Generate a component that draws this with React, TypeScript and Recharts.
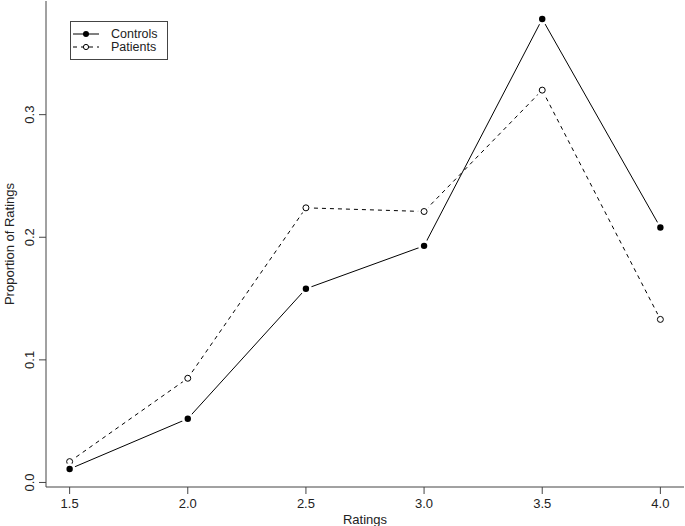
import React from "react";
import {
  LineChart,
  Line,
  XAxis,
  YAxis,
} from "recharts";

const ratings = [1.5, 2.0, 2.5, 3.0, 3.5, 4.0];
const controls = [0.011, 0.052, 0.158, 0.193, 0.378, 0.208];
const patients = [0.017, 0.085, 0.224, 0.221, 0.32, 0.133];
const xTicks = [1.5, 2.0, 2.5, 3.0, 3.5, 4.0];
const yTicks = [0, 0.1, 0.2, 0.3];

const data = ratings.map((r, i) => ({
  rating: r,
  controls: controls[i],
  patients: patients[i],
}));

const FONT = "'Liberation Sans', Arial, sans-serif";
const INK = "#222";
const AXIS = "#444";

const FilledDot = (props: any) => {
  const { cx, cy } = props;
  if (cx == null || cy == null) return null;
  return (
    <g>
      <circle cx={cx} cy={cy} r={6} fill="#fff" />
      <circle cx={cx} cy={cy} r={3.2} fill="#000" />
    </g>
  );
};

const OpenDot = (props: any) => {
  const { cx, cy } = props;
  if (cx == null || cy == null) return null;
  return (
    <g>
      <circle cx={cx} cy={cy} r={6} fill="#fff" />
      <circle cx={cx} cy={cy} r={3} fill="#fff" stroke="#000" strokeWidth={1} />
    </g>
  );
};

const YTick = (props: any) => {
  const { x, y, payload } = props;
  const tx = x - 3;
  return (
    <text
      x={tx}
      y={y}
      textAnchor="middle"
      transform={`rotate(-90 ${tx} ${y})`}
      fontSize={13}
      fontFamily={FONT}
      fill={INK}
    >
      {payload.value.toFixed(1)}
    </text>
  );
};

const XTick = (props: any) => {
  const { x, y, payload } = props;
  return (
    <text
      x={x}
      y={y + 12}
      textAnchor="middle"
      fontSize={13}
      fontFamily={FONT}
      fill={INK}
    >
      {payload.value.toFixed(1)}
    </text>
  );
};

// legend box drawn on top of the plot, like R's legend()
const LegendBox = () => (
  <svg
    width={98}
    height={40}
    style={{ position: "absolute", left: 70, top: 21, display: "block" }}
  >
    <rect x={0.5} y={0.5} width={97} height={38} fill="#fff" stroke={AXIS} />
    <line x1={3} x2={29} y1={13} y2={13} stroke="#000" />
    <circle cx={16} cy={13} r={3} fill="#000" />
    <line x1={3} x2={29} y1={26} y2={26} stroke="#000" strokeDasharray="4 4" />
    <circle cx={16} cy={26} r={2.6} fill="#fff" stroke="#000" />
    <text x={41} y={17} fontSize={12.5} fontFamily={FONT} fill={INK}>
      Controls
    </text>
    <text x={41} y={30} fontSize={12.5} fontFamily={FONT} fill={INK}>
      Patients
    </text>
  </svg>
);

export default function App() {
  return (
    <div style={{ position: "absolute", left: 0, top: 0, width: 685, height: 526, background: "#fff" }}>
      <LineChart
        width={685}
        height={526}
        data={data}
        margin={{ top: 1, right: 1, left: 0, bottom: 0 }}
      >
        <XAxis
          dataKey="rating"
          type="number"
          domain={[1.4, 4.1]}
          ticks={xTicks}
          allowDataOverflow
          height={39}
          tickSize={7}
          tick={<XTick />}
          stroke={AXIS}
          tickLine={{ stroke: AXIS }}
          label={{
            value: "Ratings",
            position: "insideBottom",
            offset: 2,
            fontSize: 13,
            fontFamily: FONT,
            fill: INK,
          }}
        />
        <XAxis
          xAxisId="top"
          orientation="top"
          dataKey="rating"
          type="number"
          domain={[1.4, 4.1]}
          height={0}
          tick={false}
          tickLine={false}
          stroke={AXIS}
        />
        <YAxis
          type="number"
          domain={[-0.0037, 0.3927]}
          ticks={yTicks}
          allowDataOverflow
          width={46}
          tickSize={7}
          tickMargin={2}
          tick={<YTick />}
          stroke={AXIS}
          tickLine={{ stroke: AXIS }}
          label={{
            value: "Proportion of Ratings",
            angle: -90,
            position: "insideLeft",
            offset: 0,
            dx: 9,
            style: { textAnchor: "middle" },
            fontSize: 13,
            fontFamily: FONT,
            fill: INK,
          }}
        />
        <YAxis
          yAxisId="right"
          orientation="right"
          domain={[-0.0037, 0.3927]}
          width={0}
          tick={false}
          tickLine={false}
          stroke={AXIS}
        />
        <Line
          dataKey="patients"
          name="Patients"
          stroke="#000"
          strokeWidth={1}
          strokeDasharray="4 4"
          dot={<OpenDot />}
          activeDot={false}
          isAnimationActive={false}
        />
        <Line
          dataKey="controls"
          name="Controls"
          stroke="#000"
          strokeWidth={1}
          dot={<FilledDot />}
          activeDot={false}
          isAnimationActive={false}
        />
      </LineChart>
      <LegendBox />
    </div>
  );
}
